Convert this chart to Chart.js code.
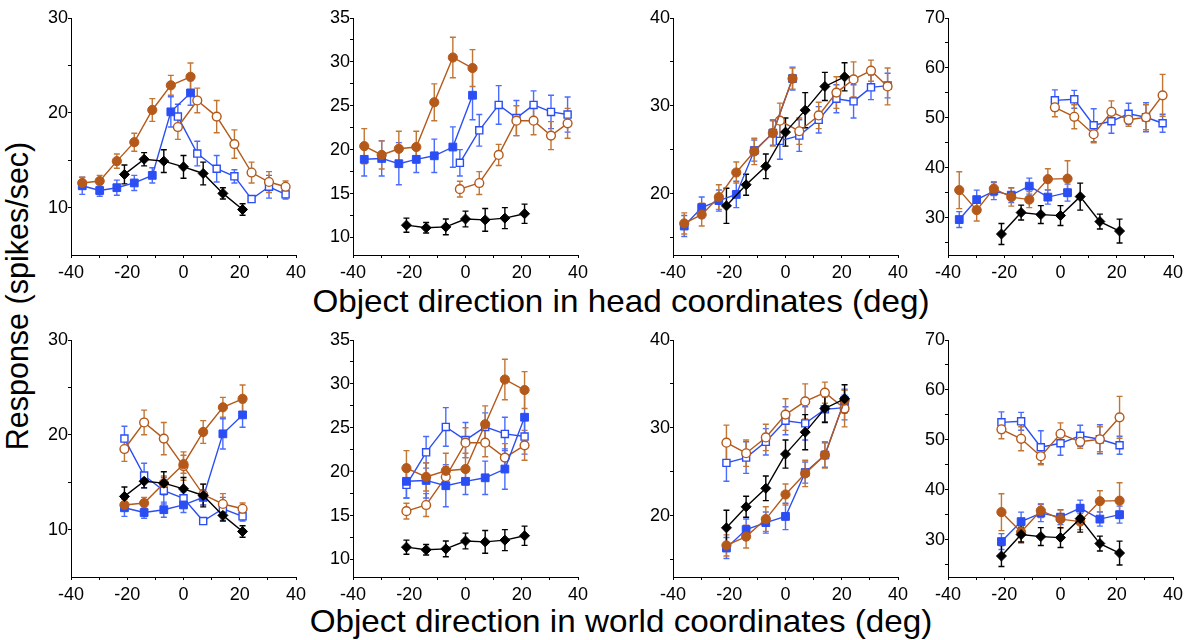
<!DOCTYPE html>
<html>
<head>
<meta charset="utf-8">
<script src="https://cdn.jsdelivr.net/npm/chart.js@4/dist/chart.umd.min.js"></script>
<style>
  html, body { margin: 0; padding: 0; background: #fff; }
  #wrap { position: relative; width: 1186px; height: 640px; overflow: hidden; font-family: 'Liberation Sans', Arial, sans-serif; }
  canvas { position: absolute; }
  .title { position: absolute; white-space: nowrap; color: #000; font-size: 30.5px; transform: translate(-50%, -50%) scaleX(1.09); }
  .ytitle { position: absolute; white-space: nowrap; color: #000; font-size: 30.5px; transform: translate(-50%, -50%) rotate(-90deg); }
</style>
</head>
<body>
<div id="wrap">
  <div class="title" style="left:621px; top:301px;">Object direction in head coordinates (deg)</div>
  <div class="title" style="left:621px; top:621px;">Object direction in world coordinates (deg)</div>
  <div class="ytitle" style="left:17px; top:296px;">Response (spikes/sec)</div>
</div>
<script>
// x positions (deg)
var xHeadFilled = [-36, -29.8, -23.7, -17.5, -11.1, -4.5, 2.5];
var xHeadOpen = [-2, 4.9, 11.8, 18.1, 24.2, 30.4, 36.3];
var xWorld = [-21, -14, -7, 0, 7, 14, 21];

// cell A
var aBlack = [13.5, 15.1, 14.9, 14.3, 13.6, 11.5, 9.8];
var aBlackErr = [1.0, 0.7, 1.2, 1.2, 1.2, 0.6, 0.6];
var aBlueFilled = [12.3, 11.8, 12.1, 12.6, 13.4, 20.1, 22.1];
var aBlueFilledErr = [0.9, 0.6, 0.8, 0.8, 0.8, 1.6, 1.3];
var aBlueOpen = [19.6, 15.7, 14.1, 13.3, 10.9, 12.2, 11.4];
var aBlueOpenErr = [1.3, 1.3, 1.4, 0.7, 0.3, 1.2, 0.5];
var aBrownFilled = [12.6, 12.8, 14.9, 16.9, 20.3, 22.9, 23.8];
var aBrownFilledErr = [0.6, 0.6, 0.75, 0.95, 1.2, 1.05, 1.45];
var aBrownOpen = [18.5, 21.3, 19.6, 16.7, 13.7, 12.7, 12.2];
var aBrownOpenErr = [1.3, 1.3, 1.7, 1.5, 1.1, 1.1, 0.6];

// cell B
var bBlack = [11.4, 11.1, 11.2, 12.1, 12.0, 12.2, 12.7];
var bBlackErr = [0.8, 0.6, 0.9, 0.9, 1.3, 1.2, 1.1];
var bBlueFilled = [18.9, 19.0, 18.4, 18.9, 19.3, 20.3, 26.2];
var bBlueFilledErr = [1.9, 2.0, 2.4, 1.5, 1.9, 2.3, 2.8];
var bBlueOpen = [18.5, 22.2, 25.1, 23.6, 25.1, 24.3, 24.0];
var bBlueOpenErr = [1.5, 1.8, 2.2, 2.0, 1.6, 1.9, 2.0];
var bBrownFilled = [20.4, 19.4, 20.1, 20.3, 25.4, 30.5, 29.3];
var bBrownFilledErr = [2.0, 1.6, 2.0, 1.8, 2.1, 2.3, 2.1];
var bBrownOpen = [15.5, 16.2, 19.4, 23.3, 23.3, 21.6, 23.0];
var bBrownOpenErr = [0.9, 1.3, 1.2, 1.7, 1.6, 1.6, 1.7];

// cell C
var cBlack = [18.6, 21.0, 23.1, 27.0, 29.5, 32.2, 33.3];
var cBlackErr = [2.0, 1.2, 1.4, 1.6, 2.0, 1.6, 1.6];
var cBlueFilled = [16.3, 18.4, 19.2, 19.9, 24.9, 26.9, 33.1];
var cBlueFilledErr = [1.2, 1.2, 1.2, 1.5, 1.2, 1.4, 1.3];
var cBlueOpen = [26.0, 26.6, 28.4, 30.8, 30.5, 32.1, 32.3];
var cBlueOpenErr = [2.1, 1.8, 1.5, 1.6, 1.9, 1.4, 1.4];
var cBrownFilled = [16.6, 17.6, 19.6, 22.4, 24.8, 26.9, 33.1];
var cBrownFilledErr = [1.2, 1.3, 1.4, 1.2, 1.5, 1.5, 1.2];
var cBrownOpen = [28.3, 27.1, 28.9, 31.5, 33.0, 34.0, 32.2];
var cBrownOpenErr = [2.0, 1.5, 1.5, 1.8, 2.0, 1.2, 2.1];

// cell D
var dBlack = [26.7, 31.0, 30.6, 30.4, 34.2, 29.2, 27.3];
var dBlackErr = [2.1, 1.5, 1.8, 2.0, 2.7, 1.5, 2.4];
var dBlueFilled = [29.6, 33.6, 35.3, 34.5, 36.3, 34.1, 35.0];
var dBlueFilledErr = [1.6, 1.9, 1.7, 1.5, 1.6, 1.4, 1.7];
var dBlueOpen = [53.5, 53.7, 48.5, 49.3, 50.8, 50.1, 48.9];
var dBlueOpenErr = [2.1, 1.8, 3.3, 2.4, 2.1, 2.9, 1.8];
var dBrownFilled = [35.5, 31.5, 35.8, 34.1, 33.6, 37.7, 37.8];
var dBrownFilledErr = [3.7, 2.2, 1.4, 1.8, 1.6, 2.1, 3.6];
var dBrownOpen = [52.1, 50.2, 46.7, 51.2, 49.6, 50.1, 54.5];
var dBrownOpenErr = [1.9, 2.4, 1.7, 2.2, 1.3, 2.5, 4.2];

// axis ticks
var xTicks = [-40, -30, -20, -10, 0, 10, 20, 30, 40];
var xTickLabels = [-40, -20, 0, 20, 40];
var yRanges = [[5, 30], [8, 35], [13, 40], [22.5, 70]];
var yTicksA = [10, 15, 20, 25, 30], yLabelsA = [10, 20, 30];
var yTicksB = [10, 12.5, 15, 17.5, 20, 22.5, 25, 27.5, 30, 32.5, 35], yLabelsB = [10, 15, 20, 25, 30, 35];
var yTicksC = [15, 20, 25, 30, 35, 40], yLabelsC = [20, 30, 40];
var yTicksD = [25, 30, 35, 40, 45, 50, 55, 60, 65, 70], yLabelsD = [30, 40, 50, 60, 70];

var BLACK = '#000000', BLUE = '#2b4ef4', BLUE_ERR = '#4a6cff', BROWN = '#b4591a', BROWN_ERR = '#c27634';

var cells = [
  {black: aBlack, blackErr: aBlackErr, bf: aBlueFilled, bfErr: aBlueFilledErr, bo: aBlueOpen, boErr: aBlueOpenErr, rf: aBrownFilled, rfErr: aBrownFilledErr, ro: aBrownOpen, roErr: aBrownOpenErr, yTicks: yTicksA, yLabels: yLabelsA},
  {black: bBlack, blackErr: bBlackErr, bf: bBlueFilled, bfErr: bBlueFilledErr, bo: bBlueOpen, boErr: bBlueOpenErr, rf: bBrownFilled, rfErr: bBrownFilledErr, ro: bBrownOpen, roErr: bBrownOpenErr, yTicks: yTicksB, yLabels: yLabelsB},
  {black: cBlack, blackErr: cBlackErr, bf: cBlueFilled, bfErr: cBlueFilledErr, bo: cBlueOpen, boErr: cBlueOpenErr, rf: cBrownFilled, rfErr: cBrownFilledErr, ro: cBrownOpen, roErr: cBrownOpenErr, yTicks: yTicksC, yLabels: yLabelsC},
  {black: dBlack, blackErr: dBlackErr, bf: dBlueFilled, bfErr: dBlueFilledErr, bo: dBlueOpen, boErr: dBlueOpenErr, rf: dBrownFilled, rfErr: dBrownFilledErr, ro: dBrownOpen, roErr: dBrownOpenErr, yTicks: yTicksD, yLabels: yLabelsD}
];

// layout of plot areas
var areaLeft = [71, 353, 673, 948];
var areaTop = [18, 340];
var areaW = 225, areaH = 237;
var padL = 46, padT = 14, padR = 18, padB = 32;

Chart.defaults.font.family = "'Liberation Sans', Arial, sans-serif";
Chart.defaults.color = '#000';

function pts(xs, ys) {
  return xs.map(function (x, i) { return {x: x, y: ys[i]}; });
}

// vertical error bars, drawn under the lines and markers
var errorBars = {
  id: 'errorBars',
  beforeDatasetsDraw: function (chart) {
    var ctx = chart.ctx, ys = chart.scales.y;
    for (var d = chart.data.datasets.length - 1; d >= 0; d--) {
      var ds = chart.data.datasets[d];
      var meta = chart.getDatasetMeta(d);
      ctx.save();
      ctx.strokeStyle = ds.errColor;
      ctx.lineWidth = 1.4;
      meta.data.forEach(function (p, i) {
        var v = ds.data[i].y, e = ds.errors[i];
        var t = ys.getPixelForValue(v + e), b = ys.getPixelForValue(v - e);
        ctx.beginPath();
        ctx.moveTo(p.x, t); ctx.lineTo(p.x, b);
        ctx.moveTo(p.x - 3, t); ctx.lineTo(p.x + 3, t);
        ctx.moveTo(p.x - 3, b); ctx.lineTo(p.x + 3, b);
        ctx.stroke();
      });
      ctx.restore();
    }
  }
};

function series(xs, ys, errs, color, errColor, style, radius, open) {
  return {
    data: pts(xs, ys),
    errors: errs,
    errColor: errColor,
    showLine: true,
    borderColor: color,
    borderWidth: 1.4,
    pointStyle: style,
    pointRadius: radius,
    pointBorderWidth: open ? 1.4 : 1,
    pointBorderColor: color,
    pointBackgroundColor: open ? '#ffffff' : color
  };
}

var wrap = document.getElementById('wrap');

for (var row = 0; row < 2; row++) {
  for (var c = 0; c < 4; c++) {
    var cell = cells[c];
    var xf = row === 0 ? xHeadFilled : xWorld;
    var xo = row === 0 ? xHeadOpen : xWorld;

    var cv = document.createElement('canvas');
    var w = areaW + padL + padR, h = areaH + padT + padB;
    cv.width = w; cv.height = h;
    cv.style.width = w + 'px'; cv.style.height = h + 'px';
    cv.style.left = (areaLeft[c] - padL) + 'px';
    cv.style.top = (areaTop[row] - padT) + 'px';
    wrap.appendChild(cv);

    (function (cell) {
      new Chart(cv.getContext('2d'), {
        type: 'scatter',
        data: {
          datasets: [
            series(xWorld, cell.black, cell.blackErr, BLACK, BLACK, 'rectRot', 5, false),
            series(xf, cell.rf, cell.rfErr, BROWN, BROWN_ERR, 'circle', 4.6, false),
            series(xf, cell.bf, cell.bfErr, BLUE, BLUE_ERR, 'rect', 5.5, false),
            series(xo, cell.ro, cell.roErr, BROWN, BROWN_ERR, 'circle', 4.4, true),
            series(xo, cell.bo, cell.boErr, BLUE, BLUE_ERR, 'rect', 5, true)
          ]
        },
        options: {
          responsive: false,
          animation: false,
          layout: {padding: {left: 0, top: padT, right: padR, bottom: 0}},
          plugins: {legend: {display: false}, tooltip: {enabled: false}},
          scales: {
            x: {
              type: 'linear', min: -40, max: 40,
              afterFit: function (s) { s.height = padB; },
              afterBuildTicks: function (s) { s.ticks = xTicks.map(function (v) { return {value: v}; }); },
              border: {color: '#000', width: 1},
              grid: {drawOnChartArea: false, drawTicks: true, tickLength: 3, tickColor: '#000', tickWidth: 1},
              ticks: {
                autoSkip: false, maxRotation: 0, padding: 4, color: '#000',
                font: {size: 18},
                callback: function (v) { return xTickLabels.indexOf(v) >= 0 ? String(v) : ''; }
              }
            },
            y: {
              type: 'linear', min: yRanges[c][0], max: yRanges[c][1],
              afterFit: function (s) { s.width = padL; },
              afterBuildTicks: function (s) { s.ticks = cell.yTicks.map(function (v) { return {value: v}; }); },
              border: {color: '#000', width: 1},
              grid: {drawOnChartArea: false, drawTicks: true, tickLength: 3, tickColor: '#000', tickWidth: 1},
              ticks: {
                autoSkip: false, padding: 0, color: '#000',
                font: {size: 18},
                callback: function (v) { return cell.yLabels.indexOf(v) >= 0 ? String(v) : ''; }
              }
            }
          }
        },
        plugins: [errorBars]
      });
    })(cell);
  }
}
</script>
</body>
</html>
